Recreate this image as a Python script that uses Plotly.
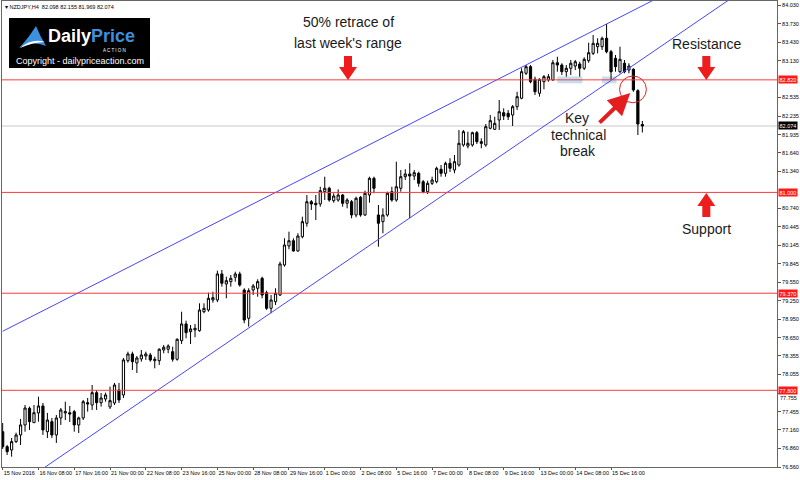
import plotly.graph_objects as go

# ---------------- data (NZDJPY H4) ----------------
OPEN = [
    77.131, 76.889, 76.835, 76.970, 77.078, 77.240, 77.510, 77.277, 77.434, 77.547,
    77.131, 77.293, 77.078, 77.353, 77.434, 77.438, 77.455, 77.240, 77.353, 77.600,
    77.563, 77.762, 77.600, 77.660, 77.531, 77.595, 77.805, 77.725, 78.279, 78.388,
    78.242, 78.307, 78.355, 78.371, 78.279, 78.279, 78.452, 78.464, 78.425, 78.302,
    78.603, 78.873, 78.748, 78.776, 78.764, 79.071, 79.099, 79.261, 79.261, 79.681,
    79.519, 79.557, 79.628, 79.681, 79.422, 78.965, 79.422, 79.450, 79.611, 79.379,
    79.126, 79.233, 79.341, 79.826, 80.134, 80.219, 80.053, 80.284, 80.501, 80.850,
    80.824, 80.813, 81.012, 81.067, 80.866, 80.877, 80.958, 80.824, 80.850, 80.635,
    80.921, 80.635, 80.958, 81.228, 80.635, 80.527, 80.635, 81.012, 80.877, 81.067,
    81.254, 81.298, 81.265, 81.309, 81.173, 81.012, 81.147, 81.173, 81.374, 81.309,
    81.471, 81.362, 81.443, 81.767, 81.750, 81.767, 81.966, 81.820, 81.767, 82.037,
    82.020, 82.171, 82.289, 82.279, 82.252, 82.386, 82.522, 82.926, 83.033, 82.829,
    82.603, 82.790, 82.818, 82.818, 83.097, 83.060, 82.952, 83.007, 83.044, 83.076,
    83.007, 83.130, 83.249, 83.356, 83.356, 83.492, 83.275, 83.168, 82.952, 83.088,
    82.979, 82.991, 82.645, 82.098,
]
HIGH = [
    77.272, 76.916, 77.029, 77.115, 77.337, 77.563, 77.536, 77.563, 77.697, 77.595,
    77.434, 77.353, 77.401, 77.514, 77.616, 77.547, 77.482, 77.374, 77.644, 77.676,
    77.886, 77.805, 77.757, 77.762, 77.859, 77.919, 77.919, 78.323, 78.425, 78.425,
    78.355, 78.452, 78.425, 78.404, 78.344, 78.480, 78.533, 78.544, 78.506, 78.641,
    79.071, 78.926, 78.856, 78.873, 79.207, 79.207, 79.379, 79.395, 79.734, 79.746,
    79.637, 79.665, 79.718, 79.718, 79.450, 79.450, 79.519, 79.595, 79.637, 79.411,
    79.341, 79.450, 79.880, 80.258, 80.365, 80.258, 80.339, 80.607, 80.958, 80.877,
    80.958, 81.092, 81.254, 81.092, 80.986, 81.050, 80.974, 80.905, 80.877, 80.931,
    80.942, 81.028, 81.254, 81.254, 80.797, 80.743, 81.012, 81.092, 81.497, 81.362,
    81.374, 81.471, 81.362, 81.335, 81.201, 81.189, 81.254, 81.416, 81.443, 81.497,
    81.552, 81.605, 82.009, 82.009, 81.982, 81.982, 81.993, 81.875, 82.106, 82.252,
    82.224, 82.494, 82.360, 82.333, 82.413, 82.628, 83.007, 83.060, 83.060, 82.871,
    82.845, 82.898, 82.915, 83.141, 83.194, 83.088, 83.060, 83.141, 83.141, 83.113,
    83.185, 83.421, 83.545, 83.492, 83.518, 83.723, 83.303, 83.222, 83.356, 83.141,
    83.088, 83.007, 82.667, 82.155,
]
LOW = [
    76.852, 76.755, 76.727, 76.949, 76.916, 77.131, 77.159, 77.272, 77.293, 77.078,
    77.029, 77.029, 76.949, 77.240, 77.320, 77.288, 77.131, 77.110, 77.320, 77.455,
    77.482, 77.482, 77.536, 77.616, 77.498, 77.563, 77.595, 77.676, 78.247, 78.129,
    78.080, 78.263, 78.291, 78.263, 78.156, 78.210, 78.399, 78.399, 78.263, 78.279,
    78.549, 78.641, 78.549, 78.658, 78.748, 79.046, 79.071, 79.217, 79.228, 79.476,
    79.288, 79.476, 79.557, 79.476, 78.884, 78.829, 79.341, 79.314, 79.288, 79.099,
    79.046, 79.180, 79.325, 79.799, 80.080, 80.042, 80.042, 80.258, 80.446, 80.716,
    80.554, 80.769, 80.877, 80.850, 80.834, 80.850, 80.769, 80.743, 80.581, 80.598,
    80.607, 80.619, 80.834, 80.986, 80.122, 80.339, 80.607, 80.850, 80.850, 81.012,
    81.201, 80.581, 81.201, 81.092, 80.986, 80.974, 81.120, 81.147, 81.254, 81.254,
    81.330, 81.309, 81.416, 81.739, 81.713, 81.739, 81.783, 81.713, 81.739, 82.020,
    82.009, 82.009, 82.171, 82.171, 82.074, 82.333, 82.506, 82.898, 82.764, 82.575,
    82.548, 82.667, 82.790, 82.806, 82.952, 82.898, 82.871, 82.898, 82.979, 82.871,
    82.979, 83.097, 83.222, 83.249, 83.303, 83.249, 82.818, 82.952, 82.926, 82.926,
    82.926, 82.628, 81.928, 81.969,
]
CLOSE = [
    76.889, 76.808, 76.970, 77.078, 77.240, 77.514, 77.293, 77.438, 77.547, 77.159,
    77.320, 77.078, 77.353, 77.482, 77.455, 77.417, 77.240, 77.353, 77.616, 77.579,
    77.762, 77.600, 77.676, 77.725, 77.633, 77.886, 77.644, 78.291, 78.388, 78.263,
    78.323, 78.371, 78.388, 78.291, 78.302, 78.464, 78.496, 78.517, 78.302, 78.625,
    78.873, 78.732, 78.792, 78.803, 79.099, 79.126, 79.288, 79.298, 79.681, 79.531,
    79.573, 79.611, 79.681, 79.503, 78.937, 79.411, 79.487, 79.557, 79.341, 79.126,
    79.261, 79.369, 79.843, 80.150, 80.219, 80.053, 80.295, 80.527, 80.850, 80.813,
    80.801, 81.028, 81.067, 80.877, 80.942, 80.958, 80.824, 80.877, 80.635, 80.905,
    80.635, 80.986, 81.228, 81.067, 80.501, 80.635, 80.986, 80.877, 81.092, 81.254,
    81.298, 81.265, 81.319, 81.147, 81.012, 81.147, 81.201, 81.390, 81.309, 81.471,
    81.390, 81.497, 81.794, 81.982, 81.794, 81.966, 81.820, 81.794, 82.063, 82.160,
    82.117, 82.305, 82.236, 82.224, 82.386, 82.548, 82.952, 83.033, 82.790, 82.628,
    82.829, 82.871, 82.871, 83.097, 83.060, 82.952, 83.007, 83.088, 83.113, 83.007,
    83.152, 83.259, 83.411, 83.411, 83.492, 83.275, 82.952, 83.033, 83.152, 82.952,
    83.044, 82.656, 82.106, 82.074,
]
BARS = list(range(len(OPEN)))

X_TICK_BARS = [0, 8, 16, 24, 32, 40, 48, 56, 64, 72, 80, 88, 96, 104, 112, 120, 128, 136]
X_TICK_TEXT = ["15 Nov 2016", "16 Nov 08:00", "17 Nov 16:00", "21 Nov 00:00", "22 Nov 08:00",
               "23 Nov 16:00", "25 Nov 00:00", "28 Nov 08:00", "29 Nov 16:00", "1 Dec 00:00",
               "2 Dec 08:00", "5 Dec 16:00", "7 Dec 00:00", "8 Dec 08:00", "9 Dec 16:00",
               "13 Dec 00:00", "14 Dec 08:00", "15 Dec 16:00"]
Y_TICK_VALS = [84.030, 83.730, 83.430, 83.130, 82.535, 82.235, 81.935, 81.640, 81.340,
               80.740, 80.445, 80.145, 79.845, 79.550, 79.250, 78.950, 78.650,
               78.355, 78.055, 77.755, 77.455, 77.160, 76.860, 76.560]
CROWDED_TICK = 77.755   # its label sits just under the 77.800 level tag

LEVELS = [82.820, 81.000, 79.370, 77.800]          # red horizontal lines
LAST_PRICE = 82.074                                 # current bid line
UPPER_LINE = ([0, 170], [78.755, 85.011])           # channel trendlines (bar, price)
LOWER_LINE = ([0, 170], [76.090, 84.491])
ZONES = [(124.0, 129.6, 82.764, 82.874), (134.0, 137.2, 82.764, 82.874)]  # highlighted boxes
CIRCLE = (137.9, 143.9, 82.450, 82.882)
BREAK_ARROW = dict(tail=(133.1, 82.106), head=(140.3, 82.607))

TEXTS = [  # (bar, price, text)
    (77.2, 83.755, "50% retrace of"),
    (77.2, 83.416, "last week's range"),
    (157.3, 83.400, "Resistance"),
    (157.3, 80.408, "Support"),
    (128.4, 82.203, "Key"),
    (128.7, 81.928, "technical"),
    (128.7, 81.669, "break"),
]
DOWN_ARROWS = [(77.2, 83.205), (157.3, 83.205)]
UP_ARROWS = [(157.3, 80.602)]

TITLE = "\u25be NZDJPY,H4  82.098 82.155 81.969 82.074"
FONT = "Liberation Sans, Arial, sans-serif"
RED = "#ff3b3b"
BLUE = "#4646ff"

fig = go.Figure()
fig.add_trace(go.Candlestick(
    x=BARS, open=OPEN, high=HIGH, low=LOW, close=CLOSE,
    increasing=dict(line=dict(color="black", width=1), fillcolor="white"),
    decreasing=dict(line=dict(color="black", width=1), fillcolor="black"),
    whiskerwidth=0, hoverinfo="skip", showlegend=False,
))
for bars, prices in (UPPER_LINE, LOWER_LINE):
    fig.add_trace(go.Scatter(x=bars, y=prices, mode="lines",
                             line=dict(color=BLUE, width=1), hoverinfo="skip", showlegend=False))

shapes = []
shapes.append(dict(type="line", xref="paper", x0=0, x1=1, yref="y", y0=LAST_PRICE, y1=LAST_PRICE,
                   line=dict(color="#c8c8c8", width=1), layer="below"))
for lv in LEVELS:
    shapes.append(dict(type="line", xref="paper", x0=0, x1=1, yref="y", y0=lv, y1=lv,
                       line=dict(color=RED, width=1)))
for x0, x1, y0, y1 in ZONES:
    shapes.append(dict(type="rect", xref="x", yref="y", x0=x0, x1=x1, y0=y0, y1=y1,
                       fillcolor="rgba(170,212,238,0.75)", line=dict(width=0), layer="below"))
shapes.append(dict(type="circle", xref="x", yref="y", x0=CIRCLE[0], x1=CIRCLE[1],
                   y0=CIRCLE[2], y1=CIRCLE[3], line=dict(color="#e62020", width=1)))
for bx, py in DOWN_ARROWS:
    shapes.append(dict(type="path", xref="x", yref="y", xsizemode="pixel", ysizemode="pixel",
                       xanchor=bx, yanchor=py,
                       path="M -4,0 L 4,0 L 4,-11 L 9,-11 L 0,-24 L -9,-11 L -4,-11 Z",
                       fillcolor="#ee1c1c", line=dict(width=0)))
for bx, py in UP_ARROWS:
    shapes.append(dict(type="path", xref="x", yref="y", xsizemode="pixel", ysizemode="pixel",
                       xanchor=bx, yanchor=py,
                       path="M -4,0 L 4,0 L 4,11 L 9,11 L 0,24 L -9,11 L -4,11 Z",
                       fillcolor="#ee1c1c", line=dict(width=0)))
# logo box (pixel offsets from the plot's top-left corner)
shapes.append(dict(type="rect", xref="paper", yref="paper", xsizemode="pixel", ysizemode="pixel",
                   xanchor=0, yanchor=1, x0=7, x1=148, y0=-17, y1=-67,
                   fillcolor="black", line=dict(width=0)))
shapes.append(dict(type="path", xref="paper", yref="paper", xsizemode="pixel", ysizemode="pixel",
                   xanchor=0, yanchor=1,
                   path="M 17,-47 Q 25,-39 34,-25 Q 38,-35 44,-45 Q 31,-39 17,-47 Z",
                   fillcolor="#3d8fe0", line=dict(width=0)))
shapes.append(dict(type="path", xref="paper", yref="paper", xsizemode="pixel", ysizemode="pixel",
                   xanchor=0, yanchor=1,
                   path="M 18,-47 Q 30,-37 43,-41 Q 31,-41 18,-47 Z",
                   fillcolor="white", line=dict(width=0)))

ann = []
for bx, py, t in TEXTS:
    ann.append(dict(x=bx, y=py, xref="x", yref="y", text=t, showarrow=False,
                    xanchor="center", yanchor="middle",
                    font=dict(family=FONT, size=14, color="#1a1a1a")))
ann.append(dict(x=BREAK_ARROW["head"][0], y=BREAK_ARROW["head"][1], xref="x", yref="y",
                ax=BREAK_ARROW["tail"][0], ay=BREAK_ARROW["tail"][1], axref="x", ayref="y",
                text="", showarrow=True, arrowhead=2, arrowsize=1.1, arrowwidth=4,
                arrowcolor="#e41e1e", standoff=0))
# crowded tick label placed just below the level tag
ann.append(dict(x=1, xref="paper", y=CROWDED_TICK, yref="y", xanchor="left", yanchor="top",
                xshift=2, yshift=-1, text=f"{CROWDED_TICK:.3f}", showarrow=False, borderpad=0,
                font=dict(family=FONT, size=5.5, color="black")))
for lv in LEVELS:
    ann.append(dict(x=1, xref="paper", y=lv, yref="y", xanchor="left", xshift=1,
                    text=f"{lv:.3f}", showarrow=False, bgcolor="#ff1a1a", borderpad=0.5,
                    font=dict(family=FONT, size=5.5, color="white")))
ann.append(dict(x=1, xref="paper", y=LAST_PRICE, yref="y", xanchor="left", xshift=1,
                text=f"{LAST_PRICE:.3f}", showarrow=False, bgcolor="black", borderpad=0.5,
                font=dict(family=FONT, size=5.5, color="white")))
ann.append(dict(x=0, y=1, xref="paper", yref="paper", xanchor="left", yanchor="top",
                xshift=1, yshift=-1, text=TITLE, showarrow=False,
                font=dict(family=FONT, size=5.5, color="black")))
ann.append(dict(x=0, y=1, xref="paper", yref="paper", xanchor="left", yanchor="middle",
                xshift=44, yshift=-35, showarrow=False,
                text="<b>Daily<span style='color:#3d8fe0'>Price</span></b>",
                font=dict(family=FONT, size=18, color="white")))
ann.append(dict(x=0, y=1, xref="paper", yref="paper", xanchor="center", yanchor="middle",
                xshift=112, yshift=-49, showarrow=False, text="A C T I O N",
                font=dict(family=FONT, size=4.5, color="white")))
ann.append(dict(x=0, y=1, xref="paper", yref="paper", xanchor="left", yanchor="middle",
                xshift=12, yshift=-60, showarrow=False, text="Copyright - dailypriceaction.com",
                font=dict(family=FONT, size=9, color="white")))

fig.update_layout(
    width=800, height=480,
    margin=dict(l=2, r=23, t=1, b=13),
    paper_bgcolor="white", plot_bgcolor="white",
    showlegend=False, shapes=shapes, annotations=ann,
    xaxis=dict(range=[-0.15, 173.1], tickmode="array", tickvals=X_TICK_BARS, ticktext=X_TICK_TEXT,
               tickangle=0, automargin=False,
               ticks="outside", ticklen=2, tickcolor="#555", ticklabelposition="outside right",
               tickfont=dict(family=FONT, size=5.5, color="black"),
               showline=True, mirror=True, linecolor="#666", linewidth=1,
               showgrid=False, zeroline=False, rangeslider=dict(visible=False), fixedrange=True),
    yaxis=dict(range=[76.56, 84.095], side="right", tickmode="array", tickvals=Y_TICK_VALS,
               ticktext=["" if v == CROWDED_TICK else f"{v:.3f}" for v in Y_TICK_VALS],
               automargin=False,
               ticks="outside", ticklen=3, tickcolor="#555",
               tickfont=dict(family=FONT, size=5.5, color="black"),
               showline=True, mirror=True, linecolor="#666", linewidth=1,
               showgrid=False, zeroline=False, fixedrange=True),
)

fig.write_html("out.html")
